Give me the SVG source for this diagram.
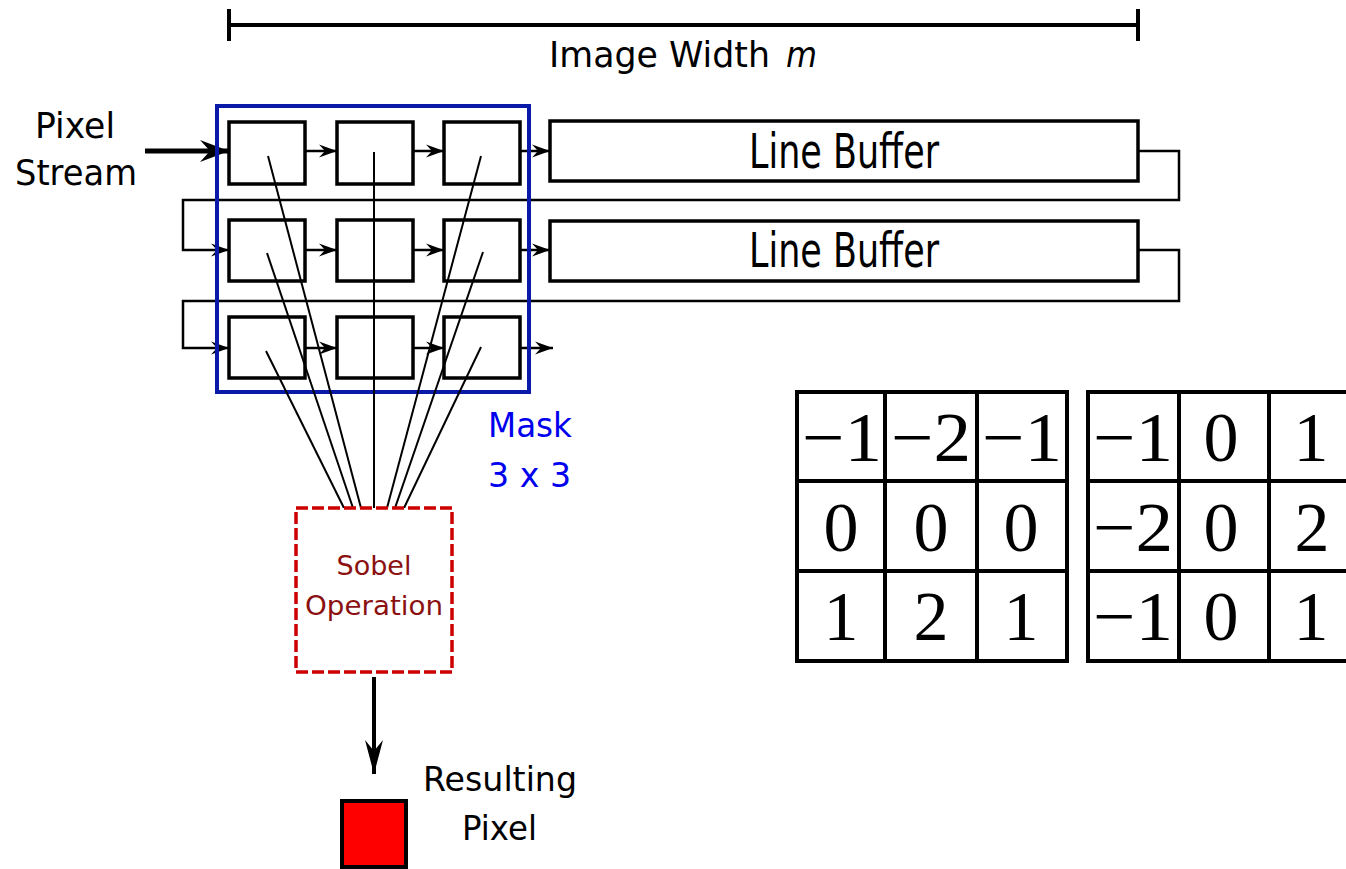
<svg xmlns="http://www.w3.org/2000/svg" width="1346" height="869" viewBox="0 0 1346 869">
<style>
.cell{fill:#fff;stroke:#000;stroke-width:3.5}
.conn{fill:none;stroke:#000;stroke-width:2.5}
.tap{fill:none;stroke:#000;stroke-width:2}
.t{font-family:"DejaVu Sans",sans-serif;fill:#000}
.num{font-family:"Liberation Serif","DejaVu Serif",serif;font-size:70px;fill:#000;text-anchor:middle}
.grid{fill:none;stroke:#000;stroke-width:4}
</style>
<defs>
<marker id="ah" viewBox="-19 -7 20 14" refX="0" refY="0" markerWidth="20" markerHeight="14" markerUnits="userSpaceOnUse" orient="auto"><path d="M0,0 L-18,-6.5 L-12,0 L-18,6.5 Z" fill="#000"/></marker>
<marker id="ahBig" viewBox="-30 -12 31 24" refX="0" refY="0" markerWidth="31" markerHeight="24" markerUnits="userSpaceOnUse" orient="auto"><path d="M0,0 L-29,-11 L-19,0 L-29,11 Z" fill="#000"/></marker>
<marker id="ahDown" viewBox="-35 -10 36 20" refX="0" refY="0" markerWidth="36" markerHeight="20" markerUnits="userSpaceOnUse" orient="auto"><path d="M0,0 L-34,-9 L-23,0 L-34,9 Z" fill="#000"/></marker>
</defs>

<g id="width-dimension">
<line x1="229" y1="25" x2="1138" y2="25" stroke="#000" stroke-width="4"/>
<line x1="229" y1="9" x2="229" y2="41" stroke="#000" stroke-width="4"/>
<line x1="1138" y1="9" x2="1138" y2="41" stroke="#000" stroke-width="4"/>
<text class="t" x="549" y="67" font-size="36" textLength="221" lengthAdjust="spacingAndGlyphs">Image Width</text>
<text class="t" x="786" y="67" font-size="36" font-style="italic" textLength="31" lengthAdjust="spacingAndGlyphs">m</text>
</g>

<g id="pixel-stream-label">
<text class="t" x="35" y="138" font-size="35" textLength="80" lengthAdjust="spacingAndGlyphs">Pixel</text>
<text class="t" x="15" y="185" font-size="35" textLength="122" lengthAdjust="spacingAndGlyphs">Stream</text>
</g>

<g id="connectors">
<line x1="145" y1="151" x2="229" y2="151" stroke="#000" stroke-width="5" marker-end="url(#ahBig)"/>
<line class="conn" x1="305" y1="151" x2="337" y2="151" marker-end="url(#ah)"/>
<line class="conn" x1="413" y1="151" x2="444" y2="151" marker-end="url(#ah)"/>
<line class="conn" x1="520" y1="151" x2="550" y2="151" marker-end="url(#ah)"/>
<line class="conn" x1="305" y1="250" x2="337" y2="250" marker-end="url(#ah)"/>
<line class="conn" x1="413" y1="250" x2="444" y2="250" marker-end="url(#ah)"/>
<line class="conn" x1="520" y1="250" x2="550" y2="250" marker-end="url(#ah)"/>
<line class="conn" x1="305" y1="348" x2="337" y2="348" marker-end="url(#ah)"/>
<line class="conn" x1="413" y1="348" x2="444" y2="348" marker-end="url(#ah)"/>
<line class="conn" x1="520" y1="348" x2="553" y2="348" marker-end="url(#ah)"/>
<path class="conn" d="M1138,151 H1179 V200 H183 V250 H229" marker-end="url(#ah)"/>
<path class="conn" d="M1138,250 H1179 V301 H183 V348 H229" marker-end="url(#ah)"/>
<line x1="374" y1="677" x2="374" y2="774" stroke="#000" stroke-width="4" marker-end="url(#ahDown)"/>
</g>

<g id="line-buffer-1">
<rect class="cell" x="550" y="121" width="588" height="60"/>
<text class="t" x="844" y="168" font-size="48" text-anchor="middle" textLength="190" lengthAdjust="spacingAndGlyphs">Line Buffer</text>
</g>
<g id="line-buffer-2">
<rect class="cell" x="550" y="221" width="588" height="60"/>
<text class="t" x="844" y="267" font-size="48" text-anchor="middle" textLength="190" lengthAdjust="spacingAndGlyphs">Line Buffer</text>
</g>

<g id="mask-cells">
<rect class="cell" x="229" y="122" width="76" height="62"/>
<rect class="cell" x="337" y="122" width="76" height="62"/>
<rect class="cell" x="444" y="122" width="76" height="62"/>
<rect class="cell" x="229" y="220" width="76" height="61"/>
<rect class="cell" x="337" y="220" width="76" height="61"/>
<rect class="cell" x="444" y="220" width="76" height="61"/>
<rect class="cell" x="229" y="317" width="76" height="61"/>
<rect class="cell" x="337" y="317" width="76" height="61"/>
<rect class="cell" x="444" y="317" width="76" height="61"/>
</g>

<g id="mask-frame">
<rect x="217" y="106" width="312" height="286" fill="none" stroke="#0a1aa8" stroke-width="4"/>
<text class="t" x="488" y="437" font-size="33" style="fill:#0000ee" textLength="84" lengthAdjust="spacingAndGlyphs">Mask</text>
<text class="t" x="488" y="487" font-size="33" style="fill:#0000ee" textLength="83" lengthAdjust="spacingAndGlyphs">3 x 3</text>
</g>

<g id="taps">
<line class="tap" x1="268" y1="156" x2="361" y2="508"/>
<line class="tap" x1="267" y1="253" x2="353" y2="508"/>
<line class="tap" x1="266" y1="351" x2="344" y2="508"/>
<line class="tap" x1="374" y1="152" x2="374" y2="508"/>
<line class="tap" x1="481" y1="156" x2="387" y2="508"/>
<line class="tap" x1="483" y1="252" x2="395" y2="508"/>
<line class="tap" x1="481" y1="347" x2="404" y2="508"/>
</g>

<g id="sobel-operation">
<rect x="296" y="508" width="156" height="164" fill="#fff" stroke="#cc0000" stroke-width="3.5" stroke-dasharray="12 4"/>
<text class="t" x="374" y="575" font-size="27" text-anchor="middle" style="fill:#8b1010">Sobel</text>
<text class="t" x="374" y="615" font-size="27" text-anchor="middle" style="fill:#8b1010" textLength="138" lengthAdjust="spacingAndGlyphs">Operation</text>
</g>

<g id="resulting-pixel">
<rect x="342" y="801" width="64" height="66" fill="#ff0000" stroke="#000" stroke-width="4"/>
<text class="t" x="423" y="791" font-size="34" textLength="154" lengthAdjust="spacingAndGlyphs">Resulting</text>
<text class="t" x="462" y="840" font-size="34" textLength="75" lengthAdjust="spacingAndGlyphs">Pixel</text>
</g>

<g id="sobel-kernel-gx">
<rect class="grid" x="797" y="392" width="270" height="269"/>
<line class="grid" x1="885" y1="392" x2="885" y2="661"/>
<line class="grid" x1="977" y1="392" x2="977" y2="661"/>
<line class="grid" x1="797" y1="481" x2="1067" y2="481"/>
<line class="grid" x1="797" y1="571" x2="1067" y2="571"/>
<text class="num" x="842" y="461" textLength="80" lengthAdjust="spacingAndGlyphs">−1</text>
<text class="num" x="931" y="461" textLength="80" lengthAdjust="spacingAndGlyphs">−2</text>
<text class="num" x="1022" y="461" textLength="80" lengthAdjust="spacingAndGlyphs">−1</text>
<text class="num" x="841" y="551">0</text>
<text class="num" x="931" y="551">0</text>
<text class="num" x="1021" y="551">0</text>
<text class="num" x="841" y="640">1</text>
<text class="num" x="931" y="640">2</text>
<text class="num" x="1021" y="640">1</text>
</g>

<g id="sobel-kernel-gy">
<rect class="grid" x="1088" y="392" width="274" height="269"/>
<line class="grid" x1="1179" y1="392" x2="1179" y2="661"/>
<line class="grid" x1="1269" y1="392" x2="1269" y2="661"/>
<line class="grid" x1="1088" y1="481" x2="1362" y2="481"/>
<line class="grid" x1="1088" y1="571" x2="1362" y2="571"/>
<text class="num" x="1133" y="461" textLength="80" lengthAdjust="spacingAndGlyphs">−1</text>
<text class="num" x="1221" y="461">0</text>
<text class="num" x="1311" y="461">1</text>
<text class="num" x="1133" y="551" textLength="80" lengthAdjust="spacingAndGlyphs">−2</text>
<text class="num" x="1221" y="551">0</text>
<text class="num" x="1312" y="551">2</text>
<text class="num" x="1133" y="640" textLength="80" lengthAdjust="spacingAndGlyphs">−1</text>
<text class="num" x="1221" y="640">0</text>
<text class="num" x="1311" y="640">1</text>
</g>
</svg>
